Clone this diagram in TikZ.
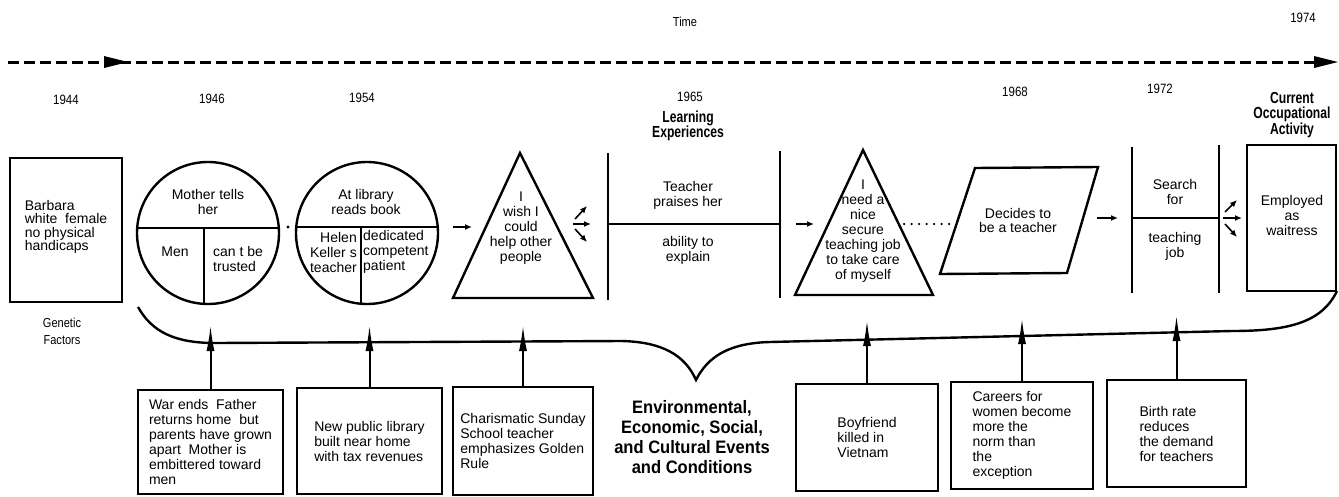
\documentclass[tikz,border=0pt]{standalone}
\usepackage{fontspec}
\setmainfont{Liberation Sans}
\newfontfamily\yearfont[FakeStretch=0.85]{Liberation Sans}
\newfontfamily\headfont[FakeStretch=0.76]{Liberation Sans}
\newfontfamily\envfont[FakeStretch=0.92]{Liberation Sans}
\usetikzlibrary{arrows.meta}

\begin{document}
\begin{tikzpicture}[x=1pt,y=-1pt,
  ink/.style={line width=2.4pt},
  body/.style={font=\fontsize{14}{15}\selectfont, inner sep=0pt, align=center},
  lbody/.style={body, align=left},
  rbody/.style={body, align=right},
  year/.style={font=\yearfont\fontsize{13.5}{14}\selectfont, inner sep=0pt, align=center},
  head/.style={font=\headfont\bfseries\fontsize{16}{15.5}\selectfont, inner sep=0pt, align=center},
  envtext/.style={font=\envfont\bfseries\fontsize{18}{20}\selectfont, inner sep=0pt, align=center},
  evbox/.style={draw, line width=2.2pt, inner sep=0pt, outer sep=0pt, align=left,
                font=\fontsize{14}{15}\selectfont},
  disc/.style={circle, draw, line width=2.4pt, minimum size=142pt, inner sep=0pt, outer sep=0pt},
  small arrow/.style={line width=1.6pt, -{Latex[length=7pt,width=6pt]}},
  up arrow/.style={line width=2pt, -{Latex[length=26pt,width=8pt]}},
]
\useasboundingbox (0,0) rectangle (1339,496);

% ---------- time axis ----------
\coordinate (tl) at (8,62);
\coordinate (tr) at (1318,62);
\draw[line width=3pt, dash pattern=on 11pt off 5pt] (tl) -- (tr);
\fill (104,56) -- (128,62) -- (104,68) -- cycle;
\fill (1314,56) -- (1338,62) -- (1314,68) -- cycle;
\node[year, font=\yearfont\fontsize{13}{13}\selectfont] (time) at (685,22) {Time};
\node[year] (y74) at (1303,18) {1974};

% ---------- years ----------
\node[year] (y44) at (66,100) {1944};
\node[year] (y46) at (212,99) {1946};
\node[year] (y54) at (362,98) {1954};
\node[year] (y65) at (690,97) {1965};
\node[year] (y68) at (1015,92) {1968};
\node[year] (y72) at (1160,89) {1972};
\node[head] (learn) at (688,126) {Learning\\Experiences};
\node[head] (current) at (1292,115) {Current\\Occupational\\Activity};

% ---------- genetic factors ----------
\draw[ink] (10,158) rectangle (122,302);
\node[body, align=left, font=\fontsize{14}{13.5}\selectfont] (barbara) at (66,227)
  {Barbara\\white~ female\\no physical\\handicaps};
\node[year, font=\yearfont\fontsize{13}{17}\selectfont] (genetic) at (62,331) {Genetic\\Factors};

% ---------- first circle ----------
\node[disc] (c1) at (208,233) {};
\draw[ink] (c1.176) -- (c1.4);
\draw[ink] (c1.267 |- c1.4) -- (c1.267);
\node[body] (mother) at (208,202) {Mother tells\\her};
\node[body] (men) at (175,252) {Men};
\node[lbody, anchor=west] (trust) at (213,259) {can t be\\trusted};

\fill (288,227) circle (1.6pt);

% ---------- second circle ----------
\node[disc] (c2) at (367,233) {};
\draw[ink] (c2.175) -- (c2.5);
\draw[ink] (c2.265 |- c2.5) -- (c2.265);
\node[body] (library) at (366,202) {At library\\reads book};
\node[rbody, anchor=east] (helen) at (357,252) {Helen\\Keller s\\teacher};
\node[lbody, anchor=west] (dedic) at (363,252) {dedicated\\competent\\patient};

% ---------- first triangle ----------
\coordinate (a1s) at (453,227); \coordinate (a1e) at (472,227);
\draw[small arrow] (a1s) -- (a1e);
\draw[ink, line join=miter] (520,153) -- (593,298) -- (453,298) -- cycle;
\node[body] (wish) at (521,228) {I\\wish I\\could\\help other\\people};
\coordinate (b1s) at (573,224); \coordinate (b1e) at (591,224);
\coordinate (b2s) at (575,219); \coordinate (b2e) at (587,206);
\coordinate (b3s) at (575,229); \coordinate (b3e) at (587,242);
\draw[small arrow] (b1s) -- (b1e);
\draw[small arrow] (b2s) -- (b2e);
\draw[small arrow] (b3s) -- (b3e);

% ---------- teacher praise ----------
\draw[ink] (608,153) -- (608,300);
\draw[ink] (780,151) -- (780,298);
\draw[ink] (608,224) -- (780,224);
\node[body] (praise) at (688,195) {Teacher\\praises her};
\node[body] (ability) at (688,250) {ability to\\explain};

% ---------- second triangle ----------
\coordinate (a2s) at (796,224); \coordinate (a2e) at (814,224);
\draw[small arrow] (a2s) -- (a2e);
\draw[ink, line join=miter] (863,150) -- (933,295) -- (795,295) -- cycle;
\node[body] (need) at (863,231) {I\\need a\\nice\\secure\\teaching job\\to take care\\of myself};
\coordinate (d1) at (904,224); \coordinate (d2) at (954,224);
\draw[line width=2.5pt, line cap=round, dash pattern=on 0pt off 7.5pt] (d1) -- (d2);

% ---------- decision ----------
\draw[ink, line join=miter] (975,168) -- (1098,167) -- (1067,273) -- (940,274) -- cycle;
\node[body, font=\fontsize{14}{14}\selectfont] (decide) at (1018,220) {Decides to\\be a teacher};
\coordinate (a3s) at (1097,218); \coordinate (a3e) at (1118,218);
\draw[small arrow] (a3s) -- (a3e);

% ---------- job search ----------
\draw[ink] (1132,147) -- (1132,293);
\draw[ink] (1219,145) -- (1219,293);
\draw[ink] (1132,218) -- (1219,218);
\node[body] (search) at (1175,192) {Search\\for};
\node[body] (tjob) at (1175,246) {teaching\\job};
\coordinate (e1s) at (1223,218); \coordinate (e1e) at (1242,218);
\coordinate (e2s) at (1225,212); \coordinate (e2e) at (1237,200);
\coordinate (e3s) at (1225,224); \coordinate (e3e) at (1237,237);
\draw[small arrow] (e1s) -- (e1e);
\draw[small arrow] (e2s) -- (e2e);
\draw[small arrow] (e3s) -- (e3e);

% ---------- current activity ----------
\draw[ink] (1247,145) rectangle (1336,291);
\node[body] (employed) at (1292,215) {Employed\\as\\waitress};

% ---------- environmental brace ----------
\draw[ink] (138,307) .. controls (152,332) and (175,343) .. (215,343)
  -- (622,341) .. controls (662,342) and (685,355) .. (696,380)
  .. controls (708,356) and (730,343) .. (770,342)
  -- (1232,331) .. controls (1290,331) and (1322,322) .. (1337,291);
\node[envtext] (env) at (692,437) {Environmental,\\Economic, Social,\\and Cultural Events\\and Conditions};

% ---------- events ----------
\node[evbox, minimum width=145pt, minimum height=104pt] (war) at (210.5,442)
  {War ends~ Father\\returns home~ but\\parents have grown\\apart~ Mother is\\embittered toward\\men};
\node[evbox, minimum width=145pt, minimum height=106pt] (pub) at (369.5,441)
  {New public library\\built near home\\with tax revenues};
\node[evbox, minimum width=140pt, minimum height=108pt] (sunday) at (523,441)
  {Charismatic Sunday\\School teacher\\emphasizes Golden\\Rule};
\node[evbox, minimum width=142pt, minimum height=107pt] (boy) at (867,437.5)
  {Boyfriend\\killed in\\Vietnam};
\node[evbox, minimum width=142pt, minimum height=107pt] (careers) at (1022,435.5)
  {Careers for\\women become\\more the\\norm than\\the\\exception};
\node[evbox, minimum width=139pt, minimum height=107pt] (birth) at (1176.5,433.5)
  {Birth rate\\reduces\\the demand\\for teachers};

\coordinate (t1) at (210.5,325);
\coordinate (t2) at (369.5,325);
\coordinate (t3) at (523,325);
\coordinate (t4) at (867,320);
\coordinate (t5) at (1022,318);
\coordinate (t6) at (1176.5,315);
\draw[up arrow] (war) -- (t1);
\draw[up arrow] (pub) -- (t2);
\draw[up arrow] (sunday) -- (t3);
\draw[up arrow] (boy) -- (t4);
\draw[up arrow] (careers) -- (t5);
\draw[up arrow] (birth) -- (t6);
\end{tikzpicture}
\end{document}
